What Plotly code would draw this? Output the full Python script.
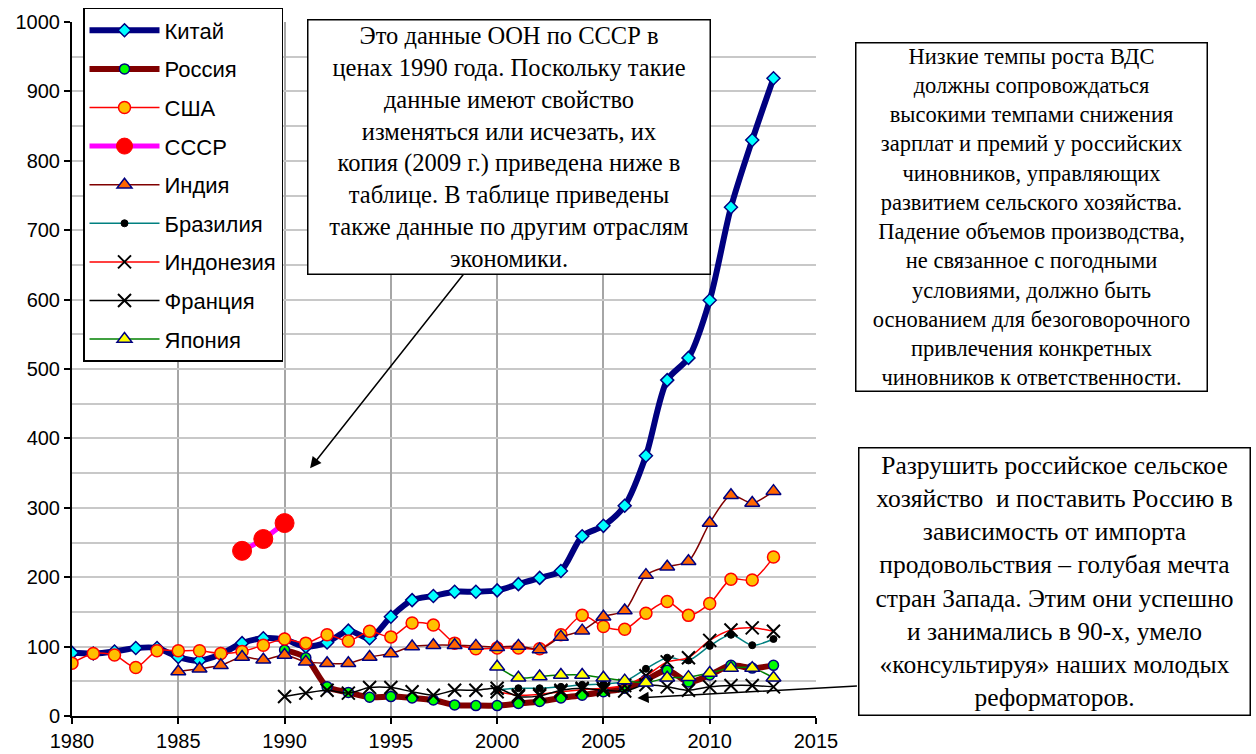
import plotly.graph_objects as go

years_all = list(range(1980, 2014))
years_90 = list(range(1990, 2014))
years_85 = list(range(1985, 2014))
years_00 = list(range(2000, 2014))
years_ussr = [1988, 1989, 1990]

china = [91, 90, 93, 98, 98, 85, 80, 89, 105, 112, 110, 100, 106, 123, 112, 143, 167, 173, 179, 179,
         181, 190, 199, 209, 259, 274, 303, 375, 484, 516, 599, 733, 830, 919]
russia = [95, 84, 42, 34, 27, 28, 26, 23, 16, 15, 15, 18, 21, 26, 30, 35, 40, 52, 66, 49, 59, 73, 69, 73]
usa = [76, 90, 88, 70, 94, 94, 94, 90, 93, 102, 111, 105, 117, 108, 122, 114, 134, 131, 105, 97,
       98, 98, 97, 117, 145, 129, 125, 148, 165, 145, 162, 197, 196, 229]
ussr = [238, 255, 278]
india = [64, 68, 73, 85, 81, 88, 78, 76, 76, 85, 90, 100, 102, 102, 101, 99, 101, 96, 114, 123,
         143, 152, 203, 215, 223, 278, 318, 307, 324]
brazil = [38, 40, 40, 42, 45, 46, 50, 68, 84, 80, 101, 117, 102, 111]
indonesia = [35, 30, 31, 35, 38, 40, 44, 58, 78, 84, 109, 124, 127, 122]
france = [28, 33, 37, 33, 41, 41, 35, 30, 37, 37, 40, 28, 29, 37, 40, 37, 36, 45, 42, 37, 42, 44, 44, 42]
japan = [71, 55, 57, 59, 59, 55, 51, 48, 55, 56, 62, 69, 69, 55]

names = ["Китай", "Россия", "США", "СССР", "Индия", "Бразилия", "Индонезия", "Франция", "Япония"]

NAVY = "#000080"
fig = go.Figure()

def add(name, x, y, lcolor, lwidth, symbol, msize, mcolor, mlcolor, mlwidth, i):
    fig.add_trace(go.Scatter(
        x=x, y=y, name=name, mode="lines+markers",
        line=dict(color=lcolor, width=lwidth, shape="spline", smoothing=0.8),
        marker=dict(symbol=symbol, size=msize, color=mcolor,
                    line=dict(color=mlcolor, width=mlwidth)),
        legendgroup="g%d" % i,
    ))

add(names[0], years_all, china, NAVY, 6, "diamond", 10, "#00ffff", NAVY, 1.5, 0)
add(names[1], years_90, russia, "#800000", 6, "circle", 10, "#00ff00", NAVY, 1.5, 1)
add(names[2], years_all, usa, "#ff0000", 1.5, "circle", 12, "#ffc000", "#ff0000", 1.5, 2)
add(names[3], years_ussr, ussr, "#ff00ff", 5, "circle", 19, "#ff0000", "#ff0000", 1, 3)
add(names[4], years_85, india, "#800000", 1.5, "triangle-up", 13, "#ff6600", NAVY, 1.5, 4)
add(names[5], years_00, brazil, "#008080", 1.5, "circle", 7, "#000000", "#000000", 1, 5)
add(names[6], years_00, indonesia, "#ff0000", 1.5, "x-thin", 13, "#000000", "#000000", 2, 6)
add(names[7], years_90, france, "#000000", 1.5, "x-thin", 13, "#000000", "#000000", 2, 7)
add(names[8], years_00, japan, "#008000", 1.5, "triangle-up", 13, "#ffff00", NAVY, 1.5, 8)

box1 = ("Это данные ООН по СССР в<br>ценах 1990 года. Поскольку такие<br>данные имеют свойство<br>"
        "изменяться или исчезать, их<br>копия (2009 г.) приведена ниже в<br>таблице. В таблице приведены<br>"
        "также данные по другим отраслям<br>экономики.")
box2 = ("Низкие темпы роста ВДС<br>должны сопровождаться<br>высокими темпами снижения<br>"
        "зарплат и премий у российских<br>чиновников, управляющих<br>развитием сельского хозяйства.<br>"
        "Падение объемов производства,<br>не связанное с погодными<br>условиями, должно быть<br>"
        "основанием для безоговорочного<br>привлечения конкретных<br>чиновников к ответственности.")
box3 = ("Разрушить российское сельское<br>хозяйство  и поставить Россию в<br>зависимость от импорта<br>"
        "продовольствия – голубая мечта<br>стран Запада. Этим они успешно<br>и занимались в 90-х, умело<br>"
        "«консультируя» наших молодых<br>реформаторов.")

serif = "Liberation Serif, Times New Roman, serif"
annotations = [
    dict(xref="x", yref="y", x=1991.2, y=357, ax=155, ay=-196, text="", showarrow=True,
         arrowhead=2, arrowsize=1.5, arrowwidth=1.5, arrowcolor="black", standoff=0),
    dict(xref="x", yref="y", x=2006.6, y=26, ax=221, ay=-12, text="", showarrow=True,
         arrowhead=2, arrowsize=1.5, arrowwidth=1.5, arrowcolor="black", standoff=0),
    dict(xref="paper", yref="paper", x=0.5880, y=0.8206, xanchor="center", yanchor="middle",
         text=box1, showarrow=False, align="center", width=401, height=253,
         bgcolor="white", bordercolor="black", borderwidth=1.5, borderpad=0,
         font=dict(family=serif, size=24.5, color="black")),
    dict(xref="paper", yref="paper", x=1.2903, y=0.7197, xanchor="center", yanchor="middle",
         text=box2, showarrow=False, align="center", width=350, height=347,
         bgcolor="white", bordercolor="black", borderwidth=1.5, borderpad=0,
         font=dict(family=serif, size=22.5, color="black")),
    dict(xref="paper", yref="paper", x=1.3212, y=0.1931, xanchor="center", yanchor="middle",
         text=box3, showarrow=False, align="center", width=390, height=266,
         bgcolor="white", bordercolor="black", borderwidth=1.5, borderpad=0,
         font=dict(family=serif, size=25.5, color="black")),
]

fig.update_layout(
    width=1256, height=754,
    margin=dict(l=72, r=440, t=22, b=38, autoexpand=False),
    paper_bgcolor="white", plot_bgcolor="white",
    font=dict(family="Liberation Sans, Arial, sans-serif", size=20, color="black"),
    showlegend=True,
    legend=dict(x=0.0148, y=1.0202, xanchor="left", yanchor="top",
                bgcolor="white", bordercolor="black", borderwidth=1.5,
                font=dict(size=22, color="black"), traceorder="grouped",
                tracegroupgap=7, itemwidth=70),
    xaxis=dict(range=[1980, 2015], dtick=5, tick0=1980, showgrid=True,
               gridcolor="#a6a6a6", gridwidth=2, showline=True, linecolor="black",
               linewidth=2, ticks="outside", ticklen=6, tickcolor="black", tickwidth=1.5,
               zeroline=False, tickfont=dict(size=20)),
    yaxis=dict(range=[0, 1000], dtick=100, tick0=0, showgrid=True,
               gridcolor="#c8c8c8", gridwidth=2, showline=True, linecolor="black",
               linewidth=2, ticks="outside", ticklen=6, tickcolor="black", tickwidth=1.5,
               zeroline=False, tickfont=dict(size=20),
               minor=dict(dtick=50, showgrid=True, gridcolor="#c8c8c8", gridwidth=2)),
    annotations=annotations,
)

fig.write_html("out.html", config={"displayModeBar": False},
               post_script="document.body.style.margin='0';document.body.style.overflow='hidden';")
